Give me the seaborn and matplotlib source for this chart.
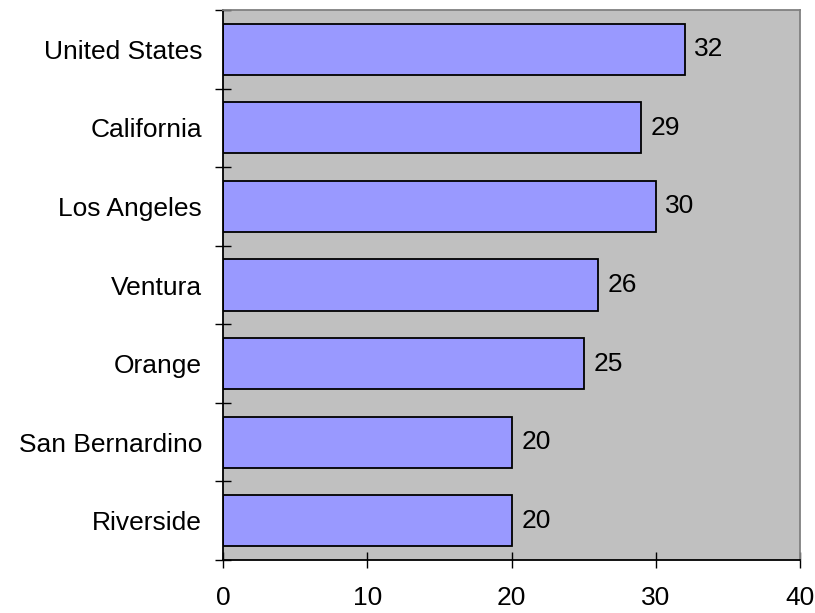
import matplotlib
matplotlib.use("Agg")
import matplotlib.pyplot as plt
import seaborn as sns
import pandas as pd
import numpy as np
from matplotlib.ticker import FixedLocator

categories = ["United States", "California", "Los Angeles", "Ventura", "Orange", "San Bernardino", "Riverside"]
values = [32, 29, 30, 26, 25, 20, 20]
xticks = [0, 10, 20, 30, 40]

sns.set_theme(style="white")
plt.rcParams['font.family'] = ['Liberation Sans', 'DejaVu Sans']

df = pd.DataFrame({"category": categories, "value": values})

FS = 19

fig = plt.figure(figsize=(8.15, 6.13), dpi=100)
ax = fig.add_axes([223/815, 1-560/613, (800-223)/815, (560-10)/613])
ax.set_facecolor("#C0C0C0")

sns.barplot(data=df, x="value", y="category", orient="h", color="#9999FF",
            saturation=1, edgecolor="black", linewidth=1.3, width=0.65, ax=ax)

for i, v in enumerate(values):
    ax.annotate(f"{v}", xy=(v, i), xytext=(7, 0), textcoords="offset points",
                va="center", ha="left", fontsize=FS, color="black")

ax.set_xlim(0, 40)
ax.set_ylim(len(categories) - 0.5, -0.5)
ax.set_xticks(xticks)
ax.set_xticklabels([str(t) for t in xticks], fontsize=FS)
ax.tick_params(axis="x", which="major", bottom=True, direction="inout", length=11.5, width=1,
               color="black", pad=13, labelcolor="black")
ax.tick_params(axis="y", which="major", left=True, length=0, pad=15, labelsize=FS, labelcolor="black")
ax.yaxis.set_minor_locator(FixedLocator(np.arange(-0.5, len(categories), 1)))
ax.tick_params(axis="y", which="minor", left=True, direction="inout", length=12, width=1, color="black")
ax.set_xlabel("")
ax.set_ylabel("")

for s in ["left", "bottom"]:
    ax.spines[s].set_color("black")
    ax.spines[s].set_linewidth(1.3)
for s in ["top", "right"]:
    ax.spines[s].set_color("#808080")
    ax.spines[s].set_linewidth(1.3)

fig.savefig("out.png", dpi=100)
